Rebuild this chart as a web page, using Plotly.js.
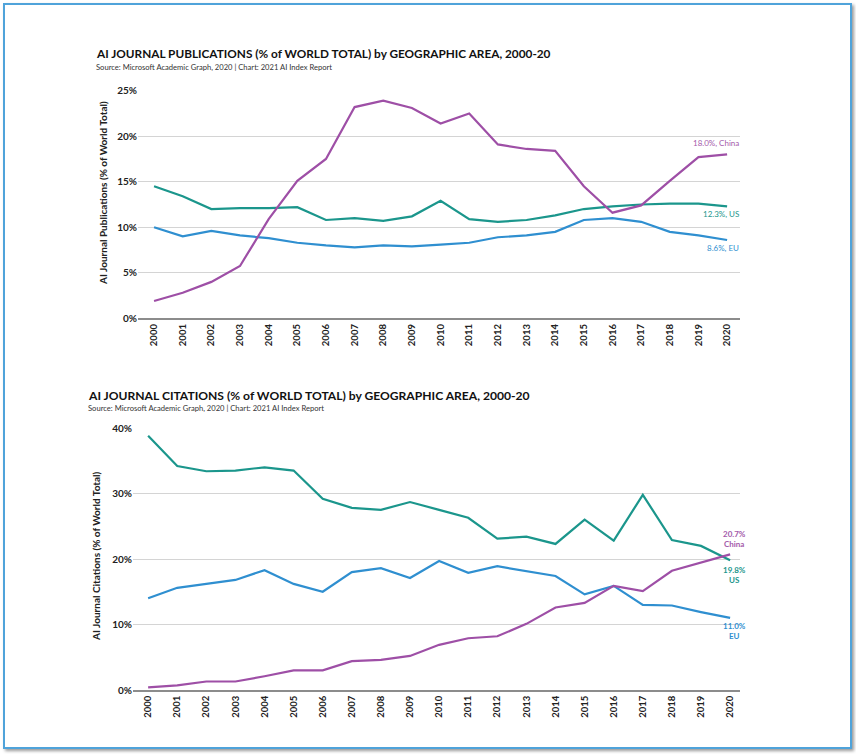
<!DOCTYPE html>
<html><head><meta charset="utf-8">
<script src="https://cdn.plot.ly/plotly-3.0.1.min.js"></script>
<style>
html,body{margin:0;padding:0;background:#fff;}
#frame{position:absolute;left:3px;top:3px;width:845px;height:742px;border:2px solid #4fa3da;box-shadow:2px 2px 3px #9a9a9a;}
#chart{position:absolute;left:0;top:0;width:856px;height:754px;}
</style></head>
<body>
<div id="frame"></div>
<div id="chart"></div>
<script>
const years = [2000,2001,2002,2003,2004,2005,2006,2007,2008,2009,2010,2011,2012,2013,2014,2015,2016,2017,2018,2019,2020];
const yearLabels = years.map(String);

// AI journal publications, % of world total
const pubChina = [1.9,2.8,4.0,5.75,10.9,15.1,17.5,23.2,23.9,23.1,21.4,22.5,19.1,18.6,18.4,14.5,11.6,12.4,15.1,17.7,18.0];
const pubUS    = [14.5,13.4,12.0,12.1,12.1,12.2,10.8,11.0,10.7,11.2,12.9,10.9,10.6,10.8,11.3,12.0,12.3,12.5,12.6,12.6,12.3];
const pubEU    = [10.0,9.0,9.6,9.1,8.8,8.3,8.0,7.8,8.0,7.9,8.1,8.3,8.9,9.1,9.5,10.8,11.0,10.6,9.5,9.1,8.6];

// AI journal citations, % of world total
const citUS    = [38.8,34.2,33.4,33.5,34.0,33.5,29.2,27.8,27.5,28.7,27.5,26.3,23.1,23.4,22.3,26.0,22.8,29.8,22.9,22.0,19.8];
const citEU    = [14.0,15.6,16.2,16.8,18.3,16.2,15.0,18.0,18.6,17.1,19.7,17.9,18.9,18.2,17.4,14.6,15.9,13.0,12.9,11.9,11.0];
const citChina = [0.4,0.7,1.3,1.3,2.1,3.0,3.0,4.4,4.6,5.2,6.9,7.9,8.2,10.1,12.6,13.3,15.9,15.1,18.2,19.4,20.7];

const cChina = '#9e4fa6', cUS = '#1b968c', cEU = '#2f8fd0';
const FONT = 'Lato, "Open Sans", sans-serif';

function tr(x, y, color, xa, ya, name){
  return {x: x, y: y, type:'scatter', mode:'lines', name: name, xaxis: xa, yaxis: ya,
    line:{color: color, width: 2.2}, hoverinfo:'skip', showlegend:false};
}

const data = [
  tr(years, pubUS, cUS, 'x', 'y', 'US'),
  tr(years, pubEU, cEU, 'x', 'y', 'EU'),
  tr(years, pubChina, cChina, 'x', 'y', 'China'),
  tr(years, citUS, cUS, 'x2', 'y2', 'US'),
  tr(years, citEU, cEU, 'x2', 'y2', 'EU'),
  tr(years, citChina, cChina, 'x2', 'y2', 'China')
];

const last = a => a[a.length-1];
const lastYear = last(years);

function xax(domain, range, anchor){
  return {domain: domain, range: range, anchor: anchor, tickmode:'array', tickvals: years, ticktext: yearLabels,
    tickangle:-90, showgrid:false, zeroline:false, showline:true, linecolor:'#8c8c8c', linewidth:2,
    ticks:'', tickfont:{family:FONT, size:9.5, color:'#222', weight:700}, fixedrange:true};
}
function yax(domain, range, dtick, anchor){
  return {domain: domain, range: range, anchor: anchor, dtick: dtick, ticksuffix:'%', showgrid:true,
    gridcolor:'#d4d4d4', gridwidth:1, zeroline:false, showline:false, ticks:'',
    tickfont:{family:FONT, size:10, color:'#222', weight:700}, fixedrange:true};
}

const ann = [
  {text:'AI JOURNAL PUBLICATIONS (% of WORLD TOTAL) by GEOGRAPHIC AREA, 2000-20', xref:'paper', yref:'paper',
   x:94/856, y:1-53.5/754, xanchor:'left', yanchor:'middle', showarrow:false,
   font:{family:FONT, size:11.8, color:'#111', weight:700}},
  {text:'Source: Microsoft Academic Graph, 2020 | Chart: 2021 AI Index Report', xref:'paper', yref:'paper',
   x:94/856, y:1-67/754, xanchor:'left', yanchor:'middle', showarrow:false,
   font:{family:FONT, size:7.6, color:'#333'}},
  {text:'AI JOURNAL CITATIONS (% of WORLD TOTAL) by GEOGRAPHIC AREA, 2000-20', xref:'paper', yref:'paper',
   x:86/856, y:1-395/754, xanchor:'left', yanchor:'middle', showarrow:false,
   font:{family:FONT, size:12.1, color:'#111', weight:700}},
  {text:'Source: Microsoft Academic Graph, 2020 | Chart: 2021 AI Index Report', xref:'paper', yref:'paper',
   x:86/856, y:1-408/754, xanchor:'left', yanchor:'middle', showarrow:false,
   font:{family:FONT, size:7.6, color:'#333'}},
  {text:'AI Journal Publications (% of World Total)', xref:'paper', yref:'paper', textangle:-90,
   x:103/856, y:1-193/754, xanchor:'center', yanchor:'middle', showarrow:false,
   font:{family:FONT, size:10, color:'#222', weight:700}},
  {text:'AI Journal Citations (% of World Total)', xref:'paper', yref:'paper', textangle:-90,
   x:96/856, y:1-556/754, xanchor:'center', yanchor:'middle', showarrow:false,
   font:{family:FONT, size:10, color:'#222', weight:700}},
  // end labels, chart 1
  {text: last(pubChina).toFixed(1)+'%, China', xref:'x', yref:'y', x:lastYear, y:last(pubChina), xanchor:'right', yanchor:'middle',
   xshift:14, yshift:11, showarrow:false, font:{family:FONT, size:8, color:'#a45aaa'}},
  {text: last(pubUS).toFixed(1)+'%, US', xref:'x', yref:'y', x:lastYear, y:last(pubUS), xanchor:'right', yanchor:'middle',
   xshift:14, yshift:-8, showarrow:false, font:{family:FONT, size:8, color:cUS}},
  {text: last(pubEU).toFixed(1)+'%, EU', xref:'x', yref:'y', x:lastYear, y:last(pubEU), xanchor:'right', yanchor:'middle',
   xshift:14, yshift:-8, showarrow:false, font:{family:FONT, size:8, color:cEU}},
  // end labels, chart 2
  {text: last(citChina).toFixed(1)+'%<br>China', xref:'x2', yref:'y2', x:lastYear, y:last(citChina), xanchor:'center', yanchor:'bottom',
   xshift:4, yshift:3, showarrow:false, font:{family:FONT, size:8, color:'#a45aaa', weight:700}},
  {text: last(citUS).toFixed(1)+'%<br>US', xref:'x2', yref:'y2', x:lastYear, y:last(citUS), xanchor:'center', yanchor:'top',
   xshift:4, yshift:-3, showarrow:false, font:{family:FONT, size:8, color:cUS, weight:700}},
  {text: last(citEU).toFixed(1)+'%<br>EU', xref:'x2', yref:'y2', x:lastYear, y:last(citEU), xanchor:'center', yanchor:'top',
   xshift:4, yshift:-1, showarrow:false, font:{family:FONT, size:8, color:cEU, weight:700}}
];

const layout = {
  width:856, height:754, margin:{l:0, r:0, t:0, b:0},
  paper_bgcolor:'rgba(0,0,0,0)', plot_bgcolor:'rgba(0,0,0,0)',
  showlegend:false,
  xaxis: xax([138/856, 740/856], [1999.44, 2020.45], 'y'),
  yaxis: yax([1-318.3/754, 1-90.7/754], [0, 25], 5, 'x'),
  xaxis2: xax([133/856, 740/856], [1999.48, 2020.34], 'y2'),
  yaxis2: yax([1-690/754, 1-428/754], [0, 40], 10, 'x2'),
  annotations: ann
};

Plotly.newPlot('chart', data, layout, {displayModeBar:false, staticPlot:true});
</script>
</body></html>
